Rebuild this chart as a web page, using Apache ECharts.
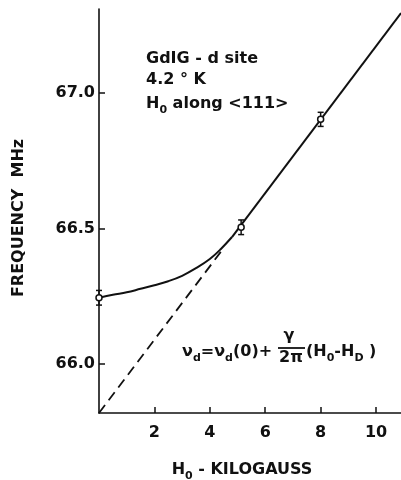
<!DOCTYPE html>
<html><head><meta charset="utf-8">
<script src="https://cdn.jsdelivr.net/npm/echarts@6/dist/echarts.min.js"></script>
<style>html,body{margin:0;padding:0;background:#fff}#c{width:401px;height:480px}</style>
</head><body><div id="c"></div>
<script>
// ---- data ----
const xTicks = [2, 4, 6, 8, 10];
const yTicks = [66.0, 66.5, 67.0];
const measX = [0, 5.13, 8.0];
const measY = [66.245, 66.505, 66.903];
const measErr = [0.027, 0.027, 0.026];
const curveX = [0, 0.5, 1, 1.5, 2, 2.5, 3, 3.5, 4, 4.4, 4.8];
const curveY = [66.245, 66.256, 66.265, 66.278, 66.291, 66.306, 66.326, 66.354, 66.388, 66.425, 66.469];
const lineX = [4.8, 10.9];
const lineY = [66.469, 67.295];
const dashX = [0, 4.43];
const dashY = [65.82, 66.419];

const FF = "'DejaVu Sans', sans-serif";
const INK = '#111';
const rich = {
  m: { fontFamily: FF, fontWeight: 'bold', fontSize: 16, fill: INK, color: INK },
  s: { fontFamily: FF, fontWeight: 'bold', fontSize: 11, fill: INK, color: INK, padding: [12, 0, 0, 0] }
};
function txt(x, y, text, extra, rot) {
  const el = {
    type: 'text', x: x, y: y, silent: true,
    style: Object.assign({ text: text, rich: rich, font: 'bold 16px ' + FF, fill: INK,
      textAlign: 'left', textVerticalAlign: 'middle' }, extra || {})
  };
  if (rot) el.rotation = rot;
  return el;
}

const chart = echarts.init(document.getElementById('c'), null, { renderer: 'canvas' });
chart.setOption({
  backgroundColor: '#fff',
  animation: false,
  grid: { left: 99, right: 0, top: 9, bottom: 67, containLabel: false },
  xAxis: {
    type: 'value', min: 0, max: 10.9,
    axisLine: { show: true, onZero: false, lineStyle: { color: INK, width: 1.6 } },
    axisTick: { show: true, inside: true, length: 6, customValues: xTicks, lineStyle: { color: INK, width: 1.5 } },
    axisLabel: { customValues: xTicks, margin: 12, color: INK, fontFamily: FF, fontWeight: 'bold', fontSize: 16,
      formatter: v => String(v) },
    splitLine: { show: false }
  },
  yAxis: {
    type: 'value', min: 65.82, max: 67.31,
    axisLine: { show: true, onZero: false, lineStyle: { color: INK, width: 1.6 } },
    axisTick: { show: true, inside: true, length: 6, customValues: yTicks, lineStyle: { color: INK, width: 1.5 } },
    axisLabel: { customValues: yTicks, margin: 4, color: INK, fontFamily: FF, fontWeight: 'bold', fontSize: 16,
      formatter: v => v.toFixed(1) },
    splitLine: { show: false }
  },
  series: [
    { type: 'line', name: 'fit-low', data: curveX.map((x, i) => [x, curveY[i]]), smooth: 0.4,
      showSymbol: false, lineStyle: { color: INK, width: 2 }, clip: false },
    { type: 'line', name: 'fit-lin', data: lineX.map((x, i) => [x, lineY[i]]),
      showSymbol: false, lineStyle: { color: INK, width: 2 }, clip: false },
    { type: 'line', name: 'extrap', data: dashX.map((x, i) => [x, dashY[i]]),
      showSymbol: false, lineStyle: { color: INK, width: 1.8, type: [10, 6] }, clip: false },
    { type: 'custom', name: 'measured', clip: false, z: 10,
      data: measX.map((x, i) => [x, measY[i], measErr[i]]),
      encode: { x: 0, y: 1 },
      renderItem: function (params, api) {
        const x = api.value(0), y = api.value(1), e = api.value(2);
        const c = api.coord([x, y]);
        const lo = api.coord([x, y - e]);
        const hi = api.coord([x, y + e]);
        const st = { stroke: INK, lineWidth: 1.5 };
        return { type: 'group', children: [
          { type: 'line', shape: { x1: c[0], y1: lo[1], x2: c[0], y2: hi[1] }, style: st },
          { type: 'line', shape: { x1: c[0] - 3, y1: lo[1], x2: c[0] + 3, y2: lo[1] }, style: st },
          { type: 'line', shape: { x1: c[0] - 3, y1: hi[1], x2: c[0] + 3, y2: hi[1] }, style: st },
          { type: 'circle', shape: { cx: c[0], cy: c[1], r: 3 }, style: { fill: '#fff', stroke: INK, lineWidth: 1.5 } }
        ] };
      }
    }
  ],
  graphic: [
    txt(146, 59, '{m|GdIG - d site}'),
    txt(146, 80, '{m|4.2 ° K}'),
    txt(146, 104, '{m|H}{s|0}{m| along <111>}'),
    // formula
    txt(182, 352, '{m|ν}{s|d}{m|=ν}{s|d}{m|(0)+}'),
    txt(289, 336, '{m|γ}', { textAlign: 'center' }),
    { type: 'line', silent: true, shape: { x1: 278, y1: 348, x2: 305, y2: 348 }, style: { stroke: INK, lineWidth: 1.8 } },
    txt(291, 358, '{m|2π}', { textAlign: 'center' }),
    txt(306, 352, '{m|(H}{s|0}{m|-H}{s|D}{m| )}'),
    // axis titles
    txt(242, 470, '{m|H}{s|0}{m| - KILOGAUSS}', { textAlign: 'center' }),
    txt(19, 218, '{m|FREQUENCY  MHz}', { textAlign: 'center' }, Math.PI / 2)
  ]
});
</script>
</body></html>
